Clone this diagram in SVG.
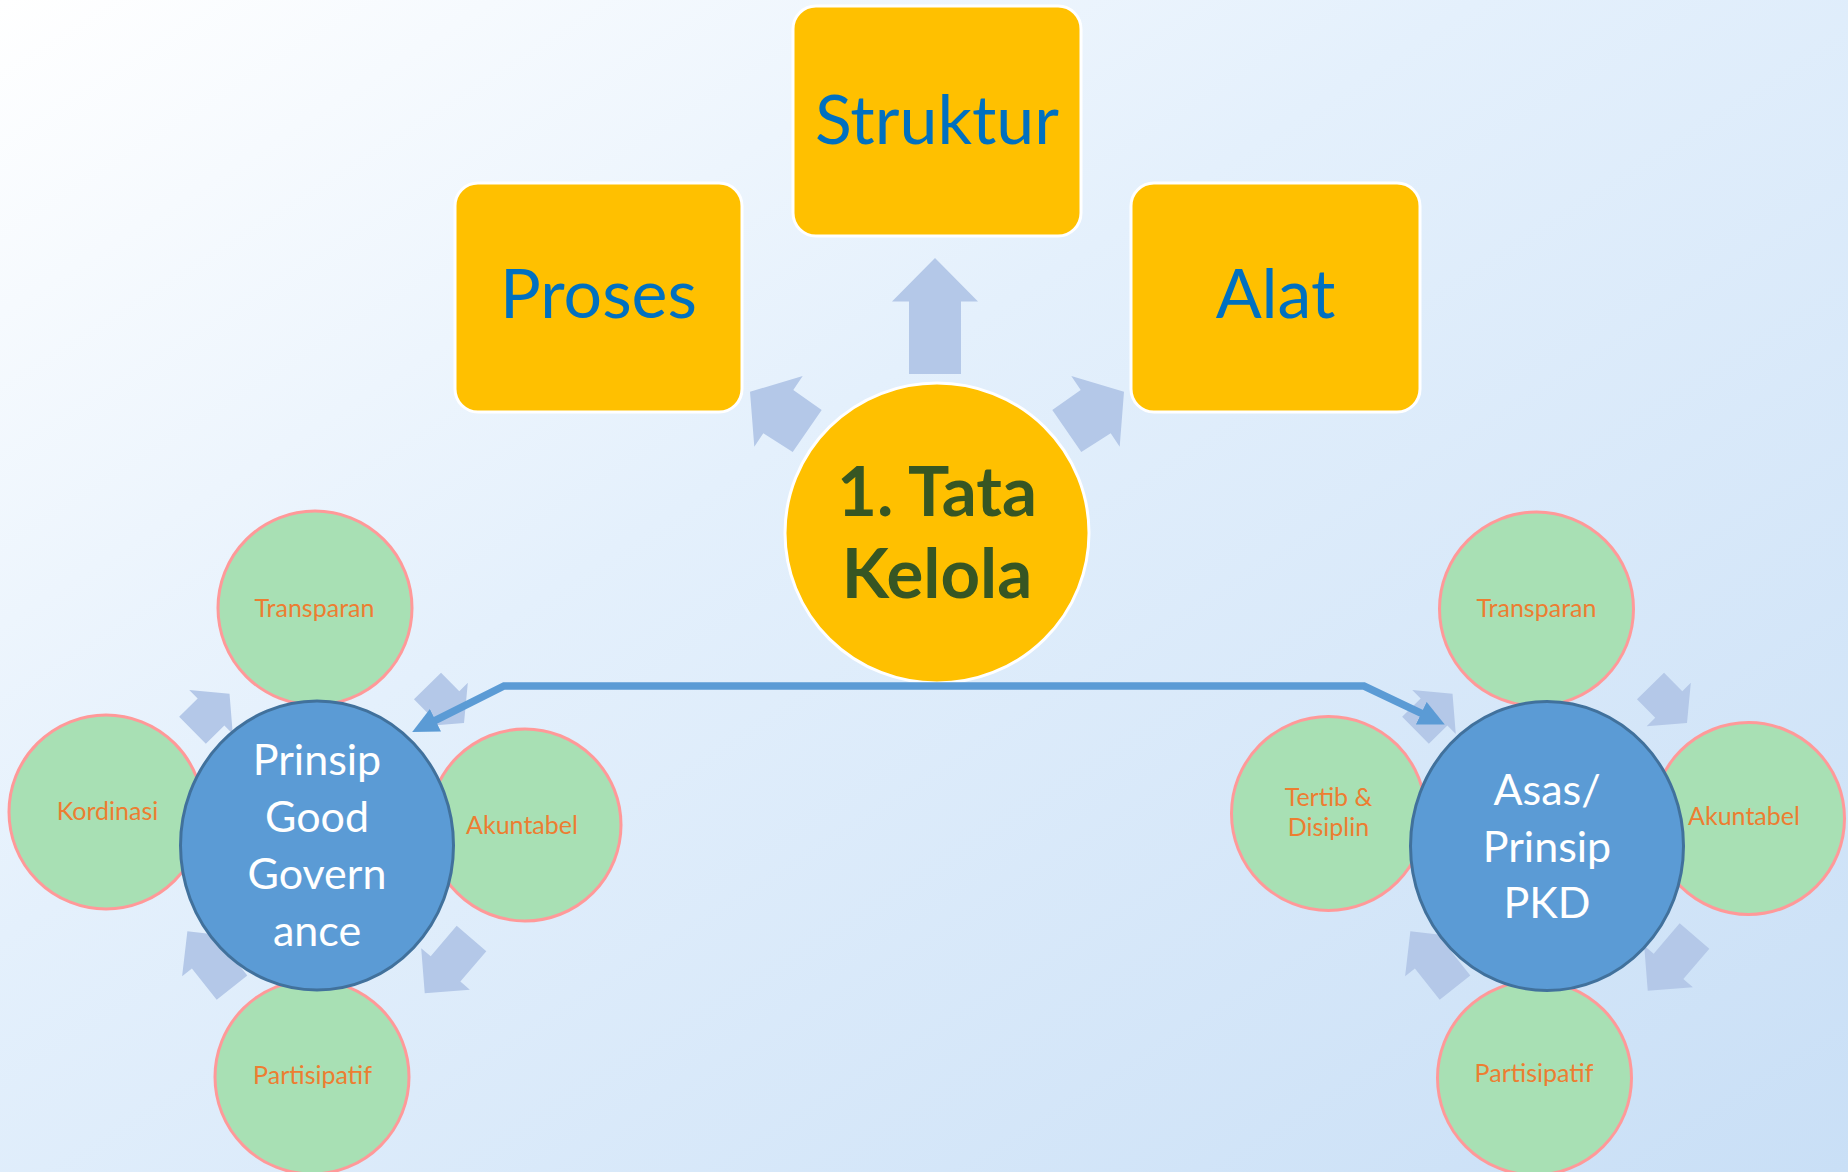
<svg xmlns="http://www.w3.org/2000/svg" xmlns:xlink="http://www.w3.org/1999/xlink" width="1848" height="1172" viewBox="0 0 1848 1172">
<defs>
<linearGradient id="bg" x1="0" y1="0" x2="1" y2="1">
<stop offset="0" stop-color="#FFFFFF"/>
<stop offset="0.4" stop-color="#E4F0FC"/>
<stop offset="1" stop-color="#C9DFF6"/>
</linearGradient>
<marker id="ah" markerUnits="userSpaceOnUse" markerWidth="28" markerHeight="26" refX="9" refY="12.5" orient="auto">
<path d="M0,0 L26,12.5 L0,25 Z" fill="#5B9BD5"/>
</marker>
<path id="arrS" d="M0,-19 H26 V-31 L52,0 L26,31 V19 H0 Z"/>
<path id="arrB" d="M0,-19.5 H40 V-32 L72,0 L40,32 V19.5 H0 Z"/>
</defs>
<style>
.box{fill:#FFC000;stroke:#FFFFFF;stroke-width:3}
.boxt{font-family:Lato,"Liberation Sans",sans-serif;font-size:68px;fill:#0070C0;text-anchor:middle}
.main{fill:#FFC000;stroke:#FFFFFF;stroke-width:3}
.maint{font-family:Lato,"Liberation Sans",sans-serif;font-size:69px;font-weight:bold;fill:#375623;text-anchor:middle}
.hub{fill:#5B9BD5;stroke:#41719C;stroke-width:3}
.hubt{font-family:Lato,"Liberation Sans",sans-serif;font-size:43px;fill:#FFFFFF;text-anchor:middle}
.leaf{fill:#A8E0B4;stroke:#FF9999;stroke-width:3}
.leaft{font-family:Lato,"Liberation Sans",sans-serif;font-size:25px;fill:#ED7D31;text-anchor:middle}
.la{fill:#B4C8E8}
.conn{fill:none;stroke:#5B9BD5;stroke-width:7.5;stroke-linejoin:miter}
</style>
<rect x="0" y="0" width="1848" height="1172" fill="url(#bg)"/>

<g id="decor-arrows">
<polygon class="la" points="909,374 909,301.5 892,301.5 935,258 978,301.5 961,301.5 961,374"/>
<polygon class="la" points="750,391.7 802.7,376 793.3,390 821.7,410 792.7,452 763.3,433.3 754.3,446.7"/>
<polygon class="la" points="1124,391.7 1071.3,376 1080.7,390 1052.3,410 1081.3,452 1110.7,433.3 1119.7,446.7"/>
<g id="cycle-left">
<use xlink:href="#arrS" class="la" transform="translate(192.5,730.3) rotate(-44.6)"/>
<use xlink:href="#arrS" class="la" transform="translate(427.5,686) rotate(45.4)"/>
<use xlink:href="#arrB" class="la" transform="translate(471.5,938.5) rotate(130.5)"/>
<use xlink:href="#arrB" class="la" transform="translate(232,987.7) rotate(-128.3)"/>
</g>
<g id="cycle-right" transform="translate(1223,0)">
<use xlink:href="#arrS" class="la" transform="translate(192.5,730.3) rotate(-44.6)"/>
<use xlink:href="#arrS" class="la" transform="translate(427.5,686) rotate(45.4)"/>
<use xlink:href="#arrB" class="la" transform="translate(471.5,936) rotate(130.5)"/>
<use xlink:href="#arrB" class="la" transform="translate(232,987.7) rotate(-128.3)"/>
</g>
</g>

<g id="node-struktur">
<rect class="box" x="793" y="6" width="288" height="230" rx="23"/>
<text class="boxt" x="937" y="144">Struktur</text>
</g>
<g id="node-proses">
<rect class="box" x="455" y="183" width="287" height="229" rx="23"/>
<text class="boxt" x="598.5" y="318">Proses</text>
</g>
<g id="node-alat">
<rect class="box" x="1131" y="183" width="289" height="229" rx="23"/>
<text class="boxt" x="1275.5" y="318">Alat</text>
</g>
<g id="node-tata-kelola">
<ellipse class="main" cx="937" cy="533" rx="152" ry="150"/>
<text class="maint" x="937" y="516">1. Tata</text>
<text class="maint" x="937" y="598">Kelola</text>
</g>

<g id="node-l-transparan">
<circle class="leaf" cx="315" cy="608" r="97"/>
<text class="leaft" x="314.5" y="617">Transparan</text>
</g>
<g id="node-l-kordinasi">
<circle class="leaf" cx="106" cy="812" r="97"/>
<text class="leaft" x="107.5" y="820">Kordinasi</text>
</g>
<g id="node-l-akuntabel">
<circle class="leaf" cx="525" cy="825" r="96"/>
<text class="leaft" x="522" y="833.5">Akuntabel</text>
</g>
<g id="node-l-partisipatif">
<circle class="leaf" cx="312" cy="1077" r="97"/>
<text class="leaft" x="312.5" y="1083.5">Partisipatif</text>
</g>
<g id="node-good-governance">
<ellipse class="hub" cx="317" cy="845.5" rx="136.5" ry="144.5"/>
<text class="hubt" x="317" y="775">Prinsip</text>
<text class="hubt" x="317" y="832">Good</text>
<text class="hubt" x="317" y="889">Govern</text>
<text class="hubt" x="317" y="946">ance</text>
</g>

<g id="node-r-transparan">
<circle class="leaf" cx="1536.5" cy="609" r="97"/>
<text class="leaft" x="1536.5" y="617">Transparan</text>
</g>
<g id="node-r-tertib">
<circle class="leaf" cx="1328.5" cy="813.5" r="97"/>
<text class="leaft" x="1328.5" y="805.5">Tertib &amp;</text>
<text class="leaft" x="1328.5" y="835.5">Disiplin</text>
</g>
<g id="node-r-akuntabel">
<circle class="leaf" cx="1748.5" cy="818.5" r="96"/>
<text class="leaft" x="1744" y="825">Akuntabel</text>
</g>
<g id="node-r-partisipatif">
<circle class="leaf" cx="1534.5" cy="1078" r="97"/>
<text class="leaft" x="1534" y="1082">Partisipatif</text>
</g>
<g id="node-asas-pkd">
<ellipse class="hub" cx="1547" cy="846" rx="136.5" ry="144.5"/>
<text class="hubt" x="1547" y="805">Asas/</text>
<text class="hubt" x="1547" y="862">Prinsip</text>
<text class="hubt" x="1547" y="918">PKD</text>
</g>

<g id="connectors">
<path class="conn" d="M937,686 H504 L427.4,724.3" marker-end="url(#ah)"/>
<path class="conn" d="M937,686 H1364 L1429.4,717.1" marker-end="url(#ah)"/>
</g>
</svg>
